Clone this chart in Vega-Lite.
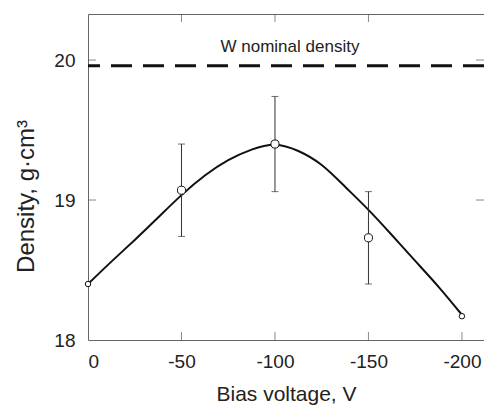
{
  "$schema": "https://vega.github.io/schema/vega-lite/v6.json",
  "width": 396,
  "height": 326,
  "autosize": {"type": "none"},
  "padding": {"left": 88, "top": 14, "right": 0, "bottom": 70},
  "background": "white",
  "config": {
    "view": {"stroke": null},
    "font": "Liberation Sans",
    "axis": {"grid": false, "domainColor": "#666", "labelColor": "#222", "titleColor": "#222", "labelFont": "Liberation Sans", "titleFont": "Liberation Sans", "titleFontWeight": "normal", "labelFontSize": 19}
  },
  "resolve": {"axis": {"x": "independent", "y": "independent"}},
  "datasets": {
    "pts": [
      {"v": 0, "d": 18.40, "lo": null, "hi": null, "big": "n"},
      {"v": -50, "d": 19.07, "lo": 18.74, "hi": 19.40, "big": "y"},
      {"v": -100, "d": 19.40, "lo": 19.06, "hi": 19.74, "big": "y"},
      {"v": -150, "d": 18.73, "lo": 18.40, "hi": 19.06, "big": "y"},
      {"v": -200, "d": 18.17, "lo": null, "hi": null, "big": "n"}
    ],
    "curve": [
      {"v": 0, "d": 18.40},
      {"v": -12.5, "d": 18.56},
      {"v": -25, "d": 18.715},
      {"v": -37.5, "d": 18.875},
      {"v": -50, "d": 19.035},
      {"v": -62.5, "d": 19.175},
      {"v": -75, "d": 19.285},
      {"v": -87.5, "d": 19.36},
      {"v": -100, "d": 19.395},
      {"v": -112.5, "d": 19.35},
      {"v": -125, "d": 19.25},
      {"v": -137.5, "d": 19.095},
      {"v": -150, "d": 18.93},
      {"v": -162.5, "d": 18.75},
      {"v": -175, "d": 18.565},
      {"v": -187.5, "d": 18.38},
      {"v": -200, "d": 18.18}
    ],
    "nominal": [{"d": 19.96}],
    "label": [{"v": -108, "d": 20.09, "t": "W nominal density"}],
    "bottomTicks": [{"v": -50}, {"v": -100}, {"v": -150}, {"v": -200}],
    "topTicks": [{"v": -50}, {"v": -100}, {"v": -150}],
    "sideTicks": [{"d": 19}, {"d": 20}]
  },
  "layer": [
    {
      "data": {"name": "nominal"},
      "mark": {"type": "rule", "color": "#111", "strokeWidth": 3, "strokeDash": [21, 11]},
      "encoding": {
        "y": {"field": "d", "type": "quantitative", "scale": {"domain": [18, 20.329], "nice": false, "zero": false},
          "axis": {"values": [18, 19, 20], "format": "d", "ticks": false, "labelPadding": 13, "title": "Density, g·cm³", "titleFontSize": 24, "titlePadding": 15, "titleY": 182}}
      }
    },
    {
      "data": {"name": "label"},
      "mark": {"type": "text", "fontSize": 17, "color": "#222", "font": "Liberation Sans"},
      "encoding": {
        "x": {"field": "v", "type": "quantitative",
          "axis": {"orient": "top", "values": [], "ticks": false, "labels": false, "domain": true, "title": null}},
        "y": {"field": "d", "type": "quantitative", "axis": null},
        "text": {"field": "t"}
      }
    },
    {
      "data": {"name": "curve"},
      "mark": {"type": "line", "color": "#111", "strokeWidth": 2, "interpolate": "natural"},
      "encoding": {
        "x": {"field": "v", "type": "quantitative", "scale": {"domain": [-211.8, 0], "reverse": true, "nice": false, "zero": false},
          "axis": {"values": [0, -50, -100, -150, -200], "labelExpr": "'' + datum.value", "ticks": false, "labelPadding": 12, "title": "Bias voltage, V", "titleFontSize": 21, "titlePadding": 12}},
        "y": {"field": "d", "type": "quantitative", "axis": null}
      }
    },
    {
      "data": {"name": "bottomTicks"},
      "mark": {"type": "tick", "orient": "vertical", "color": "#555", "size": 16, "thickness": 1, "clip": true},
      "encoding": {
        "x": {"field": "v", "type": "quantitative", "axis": null},
        "y": {"datum": 18, "type": "quantitative", "axis": null}
      }
    },
    {
      "data": {"name": "topTicks"},
      "mark": {"type": "tick", "orient": "vertical", "color": "#555", "size": 16, "thickness": 1, "clip": true},
      "encoding": {
        "x": {"field": "v", "type": "quantitative", "axis": null},
        "y": {"datum": 20.329, "type": "quantitative", "axis": null}
      }
    },
    {
      "data": {"name": "sideTicks"},
      "mark": {"type": "tick", "orient": "horizontal", "color": "#555", "size": 16, "thickness": 1, "clip": true},
      "encoding": {
        "x": {"datum": 0, "type": "quantitative", "axis": null},
        "y": {"field": "d", "type": "quantitative", "axis": null}
      }
    },
    {
      "data": {"name": "sideTicks"},
      "mark": {"type": "tick", "orient": "horizontal", "color": "#555", "size": 16, "thickness": 1, "clip": true},
      "encoding": {
        "x": {"datum": -211.8, "type": "quantitative", "axis": null},
        "y": {"field": "d", "type": "quantitative", "axis": null}
      }
    },
    {
      "data": {"name": "pts"},
      "transform": [{"filter": "datum.lo != null"}],
      "mark": {"type": "rule", "color": "#333", "strokeWidth": 1},
      "encoding": {
        "x": {"field": "v", "type": "quantitative", "axis": null},
        "y": {"field": "lo", "type": "quantitative", "axis": null},
        "y2": {"field": "hi"}
      }
    },
    {
      "data": {"name": "pts"},
      "transform": [{"filter": "datum.lo != null"}],
      "mark": {"type": "tick", "orient": "horizontal", "color": "#333", "size": 7, "thickness": 1},
      "encoding": {
        "x": {"field": "v", "type": "quantitative", "axis": null},
        "y": {"field": "lo", "type": "quantitative", "axis": null}
      }
    },
    {
      "data": {"name": "pts"},
      "transform": [{"filter": "datum.lo != null"}],
      "mark": {"type": "tick", "orient": "horizontal", "color": "#333", "size": 7, "thickness": 1},
      "encoding": {
        "x": {"field": "v", "type": "quantitative", "axis": null},
        "y": {"field": "hi", "type": "quantitative", "axis": null}
      }
    },
    {
      "data": {"name": "pts"},
      "mark": {"type": "point", "shape": "circle", "filled": true, "fill": "white", "stroke": "#111", "strokeWidth": 1, "opacity": 1},
      "encoding": {
        "x": {"field": "v", "type": "quantitative", "axis": null},
        "y": {"field": "d", "type": "quantitative", "axis": null},
        "size": {"field": "big", "type": "nominal", "scale": {"domain": ["n", "y"], "range": [30, 66]}, "legend": null}
      }
    }
  ]
}
